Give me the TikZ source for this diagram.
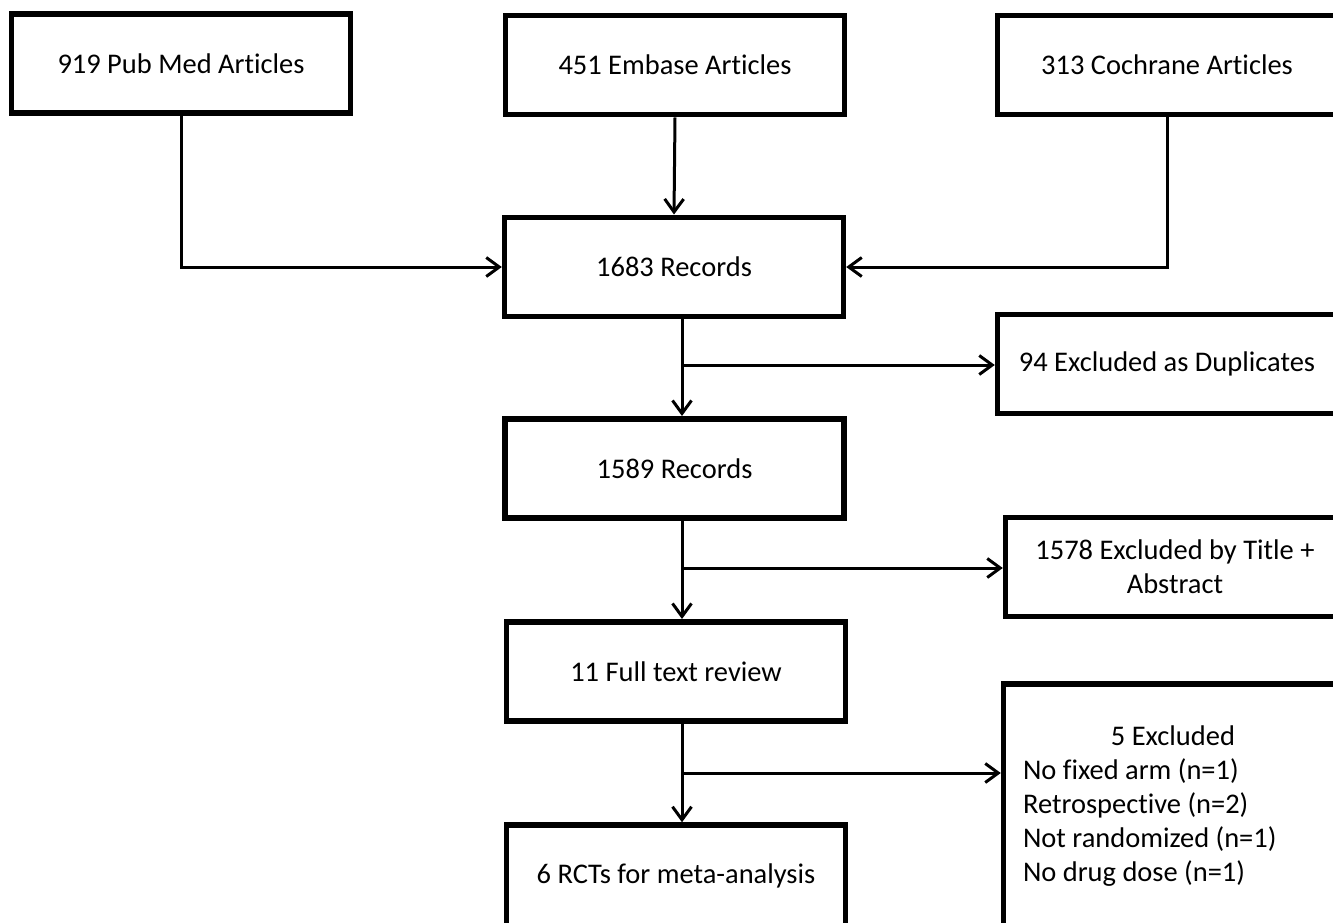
\documentclass[tikz,border=0pt]{standalone}
\usepackage{fontspec}
\setmainfont[Ligatures=NoCommon]{Carlito}
\usetikzlibrary{arrows.meta}
\begin{document}
\begin{tikzpicture}
[
 x=0.02cm, y=-0.02cm,
 every node/.style={font=\fontsize{16.2}{19.3}\selectfont},
 box/.style={rectangle, draw=black, line width=1.1mm, fill=white, inner sep=0pt,
             minimum width=6.78cm, minimum height=1.99cm},
 link/.style={line width=0.6mm, -{Straight Barb[length=2.6mm,width=3.8mm]}},
 ]
\useasboundingbox (0,0) rectangle (1333,923);
\clip (0,0) rectangle (1333,923);
%
\node [box] (pubmed)   at (181, 63.5)  {919 Pub Med Articles};
\node [box] (embase)   at (675, 65)    {451 Embase Articles};
\node [box] (cochrane) at (1167, 65)   {313 Cochrane Articles};
%
\node [box] (rec1683)  at (674, 267)   {1683 Records};
\node [box] (dup)      at (1167, 364)  {94 Excluded as Duplicates};
\node [box] (rec1589)  at (674.5, 468.5) {1589 Records};
\node [box, align=center] (exTitle) at (1175, 567) {1578 Excluded by Title +\\Abstract};
\node [box] (fulltext) at (676, 671.5) {11 Full text review};
\node [box, minimum height=4.88cm, text width=6cm, align=flush left] (exFull) at (1173, 806)
  {\makebox[6cm]{5 Excluded}\\No fixed arm (n=1)\\Retrospective (n=2)\\Not randomized (n=1)\\No drug dose (n=1)};
\node [box, minimum height=2.04cm] (rcts) at (676, 876) {6 RCTs for meta-analysis};
%
\coordinate (j1) at (682, 365);
\coordinate (j2) at (682, 568);
\coordinate (j3) at (682, 773);
%
\draw [link] (pubmed.south) |- (rec1683.west);
\draw [link] (embase.south) -- (rec1683.north);
\draw [link] (cochrane.south) |- (rec1683.east);
%
\draw [link] (rec1683.south -| j1) -- (rec1589.north -| j1);
\draw [link] (j1) -- (j1 -| dup.west);
\draw [link] (rec1589.south -| j2) -- (fulltext.north -| j2);
\draw [link] (j2) -- (j2 -| exTitle.west);
\draw [link] (fulltext.south -| j3) -- (rcts.north -| j3);
\draw [link] (j3) -- (j3 -| exFull.west);
%
\end{tikzpicture}
\end{document}
